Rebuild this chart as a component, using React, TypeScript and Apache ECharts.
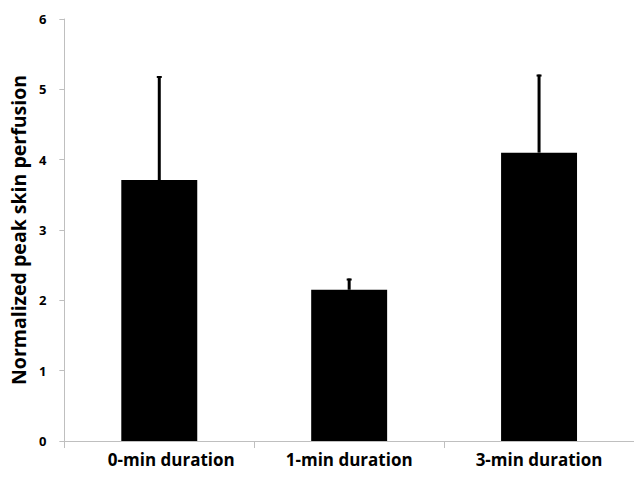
import React, { useEffect, useRef } from "react";
import * as echarts from "echarts";

const categories = ["0-min duration", "1-min duration", "3-min duration"];
const means = [3.71, 2.15, 4.1];
const upperErrors = [5.19, 2.31, 5.21];
const yTicks = [0, 1, 2, 3, 4, 5, 6];

export default function App() {
  const ref = useRef<HTMLDivElement>(null);
  useEffect(() => {
    if (!ref.current) return;
    const chart = echarts.init(ref.current, null, { renderer: "svg" });
    const font = "Open Sans";
    chart.setOption({
      animation: false,
      backgroundColor: "#ffffff",
      grid: { left: 61, right: 0, top: 19, bottom: 37, containLabel: false },
      xAxis: {
        type: "category",
        data: categories.map((c, i) =>
          i === 0 ? { value: c, textStyle: { padding: [0, 0, 0, 24] } } : c
        ),
        axisLine: { lineStyle: { color: "#bfbfbf", width: 1 } },
        axisTick: { show: true, length: 7, lineStyle: { color: "#bfbfbf" } },
        axisLabel: {
          color: "#000",
          fontFamily: font,
          fontWeight: "bold",
          fontSize: 17,
          margin: 10,
        },
      },
      yAxis: {
        type: "value",
        min: yTicks[0],
        max: yTicks[yTicks.length - 1],
        interval: 1,
        name: "Normalized peak skin perfusion",
        nameLocation: "middle",
        nameGap: 35,
        nameTextStyle: {
          color: "#000",
          fontFamily: font,
          fontWeight: "bold",
          fontSize: 19.5,
        },
        axisLine: { show: true, lineStyle: { color: "#bfbfbf", width: 1 } },
        axisTick: { show: true, length: 5, lineStyle: { color: "#bfbfbf" } },
        splitLine: { show: false },
        axisLabel: {
          color: "#000",
          fontFamily: font,
          fontWeight: "bold",
          fontSize: 13,
          margin: 18,
        },
      },
      series: [
        {
          type: "bar",
          data: means,
          barWidth: "40%",
          itemStyle: { color: "#000000" },
          z: 2,
        },
        {
          type: "custom",
          data: categories.map((_, i) => [i, means[i], upperErrors[i]]),
          z: 3,
          renderItem: (params: any, api: any) => {
            const x = api.value(0);
            const lo = api.coord([x, api.value(1)]);
            const hi = api.coord([x, api.value(2)]);
            return {
              type: "group",
              children: [
                {
                  type: "line",
                  shape: { x1: lo[0], y1: lo[1], x2: hi[0], y2: hi[1] },
                  style: { stroke: "#000", lineWidth: 3 },
                },
                {
                  type: "line",
                  shape: { x1: hi[0] - 2.5, y1: hi[1] + 1, x2: hi[0] + 2.5, y2: hi[1] + 1 },
                  style: { stroke: "#000", lineWidth: 2 },
                },
              ],
            };
          },
        },
      ],
    });
    return () => chart.dispose();
  }, []);
  return <div ref={ref} style={{ width: 634, height: 478, position: "absolute", left: 0, top: 0 }} />;
}
